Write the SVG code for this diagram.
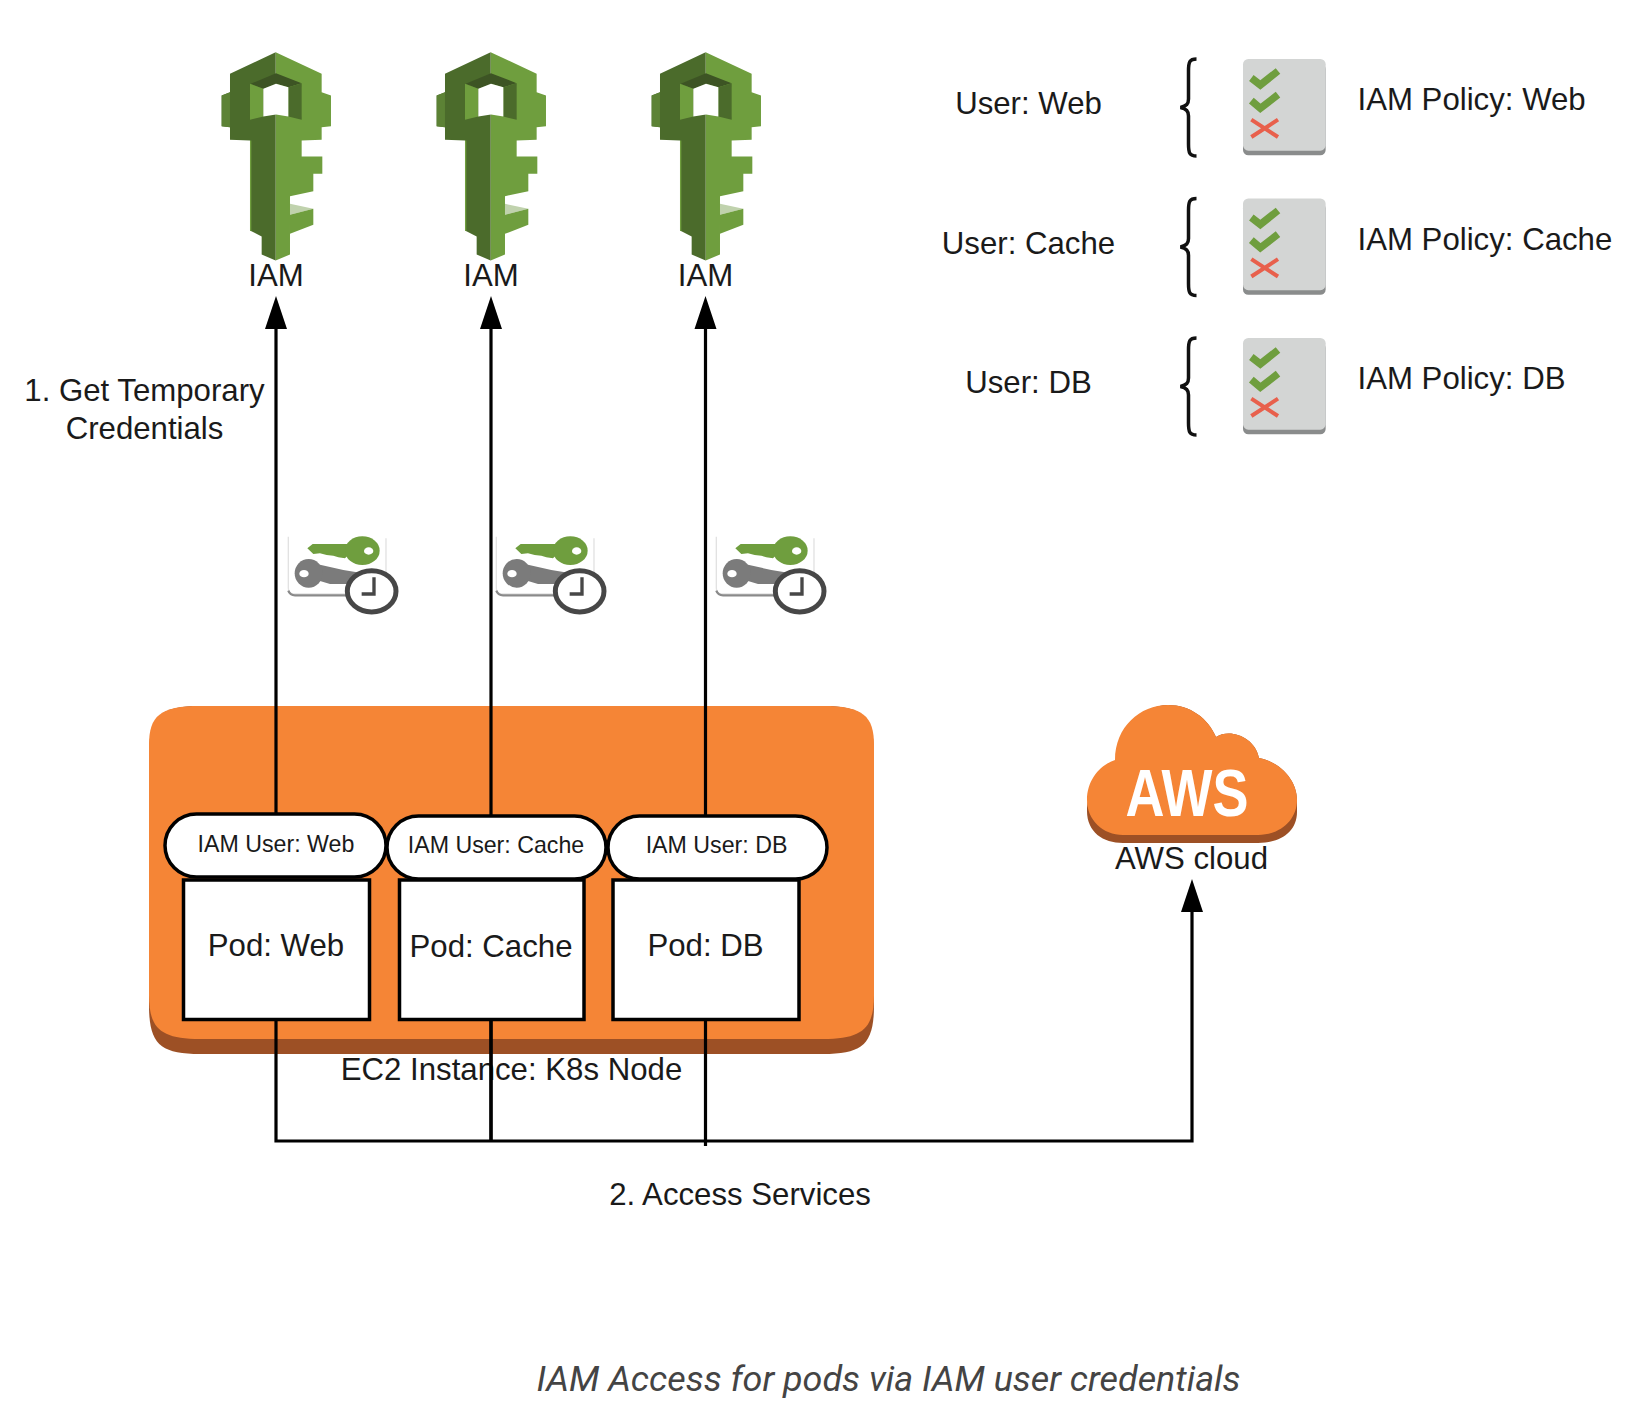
<svg xmlns="http://www.w3.org/2000/svg" width="1644" height="1426" viewBox="0 0 1644 1426">
<style>
text{font-family:"Liberation Sans",Arial,sans-serif;fill:#1a1a1a;font-size:31.2px}
.m{text-anchor:middle}
.pill{fill:#fff;stroke:#000;stroke-width:3.5}
.pod{fill:#fff;stroke:#000;stroke-width:3.5}
.sm{font-size:23.2px}
.wire{fill:none;stroke:#000;stroke-width:3.2}
.cap{font-family:Roboto,"Liberation Sans",sans-serif;font-style:italic;font-size:35.9px;fill:#444}
</style>
<defs>
<symbol id="key" overflow="visible">
<g transform="scale(.3333)">
<path d="M227 65L365 130V185L393 195V287L365 290V328L305 330V378H367V430H340V482L270 497V610L270 672L227 690V65Z" fill="#6f9e3e"/>
<path d="M270 520L340 535L270 553Z" fill="#c0d2ad"/>
<path d="M270 553L340 535V583L270 610Z" fill="#6f9e3e"/>
<path d="M227 65L90 130V185L65 195V287L90 290V328L150 330V600L185 618V672L227 690V65Z" fill="#4b6b2b"/>
<path d="M65 195L90 185V290L65 287Z" fill="#5c8235"/>
<path d="M150 330V600L154 602V330Z" fill="#6f9e3e"/>
<path d="M152 160L228 128L305 158L265 170L228 160L190 175Z" fill="#3d5424"/>
<path d="M150 160L190 175V258L150 268Z" fill="#6f9e3e"/>
<path d="M305 158L265 170V258L305 268Z" fill="#4b6b2b"/>
<path d="M190 175L228 160L265 170V258L228 252L190 258Z" fill="#fff"/>
</g>
</symbol>
<symbol id="cred" overflow="visible">
<g transform="scale(.3333)">
<path d="M25 50V205Q25 222 42 222H240M318 55V160" fill="none" stroke="#e2e2e2" stroke-width="4"/>
<path d="M25 212Q30 226 45 226H230" fill="none" stroke="#8a8a8a" stroke-width="7"/>
<path d="M82 85L98 72H205V105L195 115L175 112L160 107L140 105L120 100L100 102Z" fill="#6f9e3e"/>
<ellipse cx="247" cy="92" rx="52" ry="43" fill="#6f9e3e"/>
<ellipse cx="266" cy="93" rx="14" ry="11" fill="#fff"/>
<path d="M110 132L190 150L240 158L215 192H150L110 180Z" fill="#7b7b7b"/>
<ellipse cx="86" cy="160" rx="42" ry="43" fill="#7b7b7b"/>
<ellipse cx="72" cy="161" rx="14" ry="11" fill="#fff"/>
<ellipse cx="275" cy="214" rx="73" ry="62" fill="#fff" stroke="#474747" stroke-width="15"/>
<path d="M282 172V222H245" fill="none" stroke="#474747" stroke-width="10"/>
</g>
</symbol>
<symbol id="card" overflow="visible">
<g transform="scale(.3333)">
<rect x="0" y="14" width="248" height="275" rx="16" fill="#8a8c8c"/>
<rect x="0" y="0" width="248" height="275" rx="16" fill="#d3d5d4"/>
<path d="M25 57L52 78L105 36M25 125L52 148L105 107" fill="none" stroke="#6f9e3e" stroke-width="22"/>
<path d="M25 182L105 234M105 182L25 234" fill="none" stroke="#e8604c" stroke-width="12"/>
</g>
</symbol>
<symbol id="brace" overflow="visible">
<path d="M16 0C9 0 8 3 8 12V40C8 45 6 47 0 48.500C6 50 8 52 8 57V85C8 94 9 97 16 97" fill="none" stroke="#111" stroke-width="3.500"/>
</symbol>
</defs>
<rect width="1644" height="1426" fill="#fff"/>
<g id="ec2-instance">
<path d="M149 755C149 716 160 706 200 706H823C863 706 874 716 874 755V1005C874 1044 863 1054 823 1054H200C160 1054 149 1044 149 1005Z" fill="#9d5025"/>
<path d="M149 745C149 716 160 706 200 706H823C863 706 874 716 874 745V995C874 1028 863 1039 823 1039H200C160 1039 149 1028 149 995Z" fill="#f58536"/>
</g>
<g id="connectors">
<path class="wire" d="M276 816V326M491 818V326M705.500 818V326"/>
<path class="wire" d="M276 1020V1141H1192V910M491 1020V1141M705.500 1020V1146"/>
<path d="M276 296L287 329H265Z M491 296L502 329H480Z M705.500 296L716.500 329H694.500Z M1192 879L1203 912H1181Z" fill="#000"/>
</g>
<g id="user-web-pill"><rect class="pill" x="165" y="814" width="221" height="63" rx="31.500"/><text class="sm m" x="276" y="851.500">IAM User: Web</text></g>
<g id="user-cache-pill"><rect class="pill" x="387" y="816" width="219" height="63" rx="31.500"/><text class="sm m" x="496" y="853">IAM User: Cache</text></g>
<g id="user-db-pill"><rect class="pill" x="608" y="816" width="219" height="63" rx="31.500"/><text class="sm m" x="716.500" y="853">IAM User: DB</text></g>
<g id="pod-web"><rect class="pod" x="183.500" y="880" width="186" height="139.500"/><text class="m" x="276" y="956">Pod: Web</text></g>
<g id="pod-cache"><rect class="pod" x="399.500" y="880" width="184.500" height="139.500"/><text class="m" x="491" y="957">Pod: Cache</text></g>
<g id="pod-db"><rect class="pod" x="613" y="880" width="186" height="139.500"/><text class="m" x="705.500" y="956">Pod: DB</text></g>
<text id="ec2-label" class="m" x="511.500" y="1079.500">EC2 Instance: K8s Node</text>
<path class="wire" d="M491 1020V1141"/>
<g id="iam-1"><use href="#key" transform="translate(200 30.500)"/><text class="m" x="276" y="286">IAM</text></g>
<g id="iam-2"><use href="#key" transform="translate(415 30.500)"/><text class="m" x="491" y="286">IAM</text></g>
<g id="iam-3"><use href="#key" transform="translate(630 30.500)"/><text class="m" x="705.500" y="286">IAM</text></g>
<g id="cred-1"><use href="#cred" transform="translate(280 520)"/></g>
<g id="cred-2"><use href="#cred" transform="translate(488 520)"/></g>
<g id="cred-3"><use href="#cred" transform="translate(708 520)"/></g>
<g id="aws-cloud">
<path d="M1087 811C1087 791 1100 775 1115 770C1115 737 1140 705 1168 705C1190 705 1208 718 1216 737C1230 728 1255 737 1259 758C1280 762 1297 780 1297 800V812C1297 832 1280 843 1258 843H1123C1103 843 1087 832 1087 811Z" fill="#9d5025"/>
<path d="M1087 800C1087 780 1100 765 1115 760C1115 727 1140 705 1168 705C1190 705 1208 718 1216 737C1230 728 1255 737 1259 758C1280 762 1297 780 1297 800C1297 820 1280 835 1258 835H1123C1103 835 1087 820 1087 800Z" fill="#f58536"/>
<text class="m" x="1187" y="816" textLength="123" lengthAdjust="spacingAndGlyphs" style="font-size:67px;font-weight:bold;fill:#fff">AWS</text>
<text class="m" x="1191.500" y="868.500">AWS cloud</text>
</g>
<g id="policy-web"><text class="m" x="1028.500" y="114">User: Web</text><use href="#brace" transform="translate(1180.500 59)"/><use href="#card" transform="translate(1243 59)"/><text x="1357.500" y="110">IAM Policy: Web</text></g>
<g id="policy-cache"><text class="m" x="1028.500" y="253.500">User: Cache</text><use href="#brace" transform="translate(1180.500 198.500)"/><use href="#card" transform="translate(1243 198.500)"/><text x="1357.500" y="249.500">IAM Policy: Cache</text></g>
<g id="policy-db"><text class="m" x="1028.500" y="393">User: DB</text><use href="#brace" transform="translate(1180.500 338)"/><use href="#card" transform="translate(1243 338)"/><text x="1357.500" y="389">IAM Policy: DB</text></g>
<g id="labels">
<text class="m" x="144.500" y="400.500">1. Get Temporary</text>
<text class="m" x="144.500" y="438.500">Credentials</text>
<text class="m" x="740" y="1205">2. Access Services</text>
<text class="cap m" x="888.500" y="1390.500">IAM Access for pods via IAM user credentials</text>
</g>
</svg>
